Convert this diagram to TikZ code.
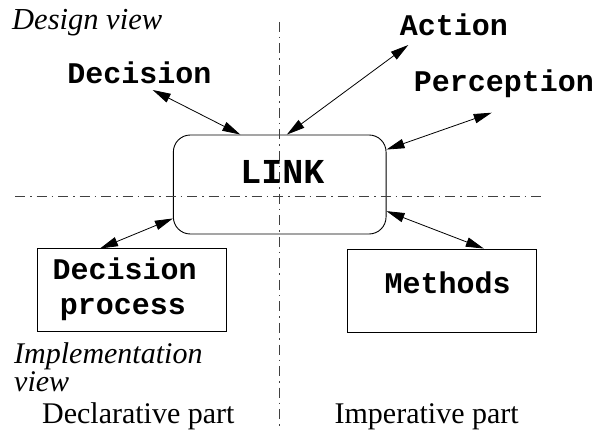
\documentclass[tikz,border=0pt]{standalone}
\usepackage{fontspec}
\setmainfont{Liberation Serif}
\newfontfamily\monob{Liberation Mono}
\usetikzlibrary{arrows.meta}
\tikzset{
  monolbl/.style={font=\monob\bfseries\fontsize{30}{34}\selectfont, inner sep=0pt, anchor=base},
  serlbl/.style={font=\fontsize{30}{34}\selectfont, inner sep=0pt, anchor=base},
  itlbl/.style={font=\itshape\fontsize{30}{22}\selectfont, inner sep=0pt, anchor=base west, align=left},
  axis/.style={line width=0.8pt, black!75, dash pattern=on 10pt off 5pt on 1.5pt off 5pt},
  box/.style={draw, line width=0.9pt, inner sep=0pt},
  link/.style={<->, line width=0.8pt, >={Triangle[length=18pt,width=9.5pt]}}
}
\begin{document}
\begin{tikzpicture}[x=1pt,y=-1pt]
\useasboundingbox (0,0) rectangle (597,430);
% boxes
\node[box, rounded corners=17pt, minimum width=212.7pt, minimum height=99pt] (lnk) at (279.7,184.5) {};
\node[box, minimum width=189.4pt, minimum height=82.7pt] (dp) at (132,290.3) {};
\node[box, minimum width=189pt, minimum height=83pt] (meth) at (441.8,290.5) {};
% axes
\coordinate (vtop) at (279.5,22);
\coordinate (vbot) at (279.5,430);
\coordinate (hl) at (15,196);
\coordinate (hr) at (545,196);
\draw[axis] (vtop) -- (vbot);
\draw[axis] (hl) -- (hr);
% labels
\node[monolbl, font=\monob\bfseries\fontsize{35}{40}\selectfont] (linktxt) at (282.3,184) {LINK};
\node[monolbl] (dec) at (139.5,83.3) {Decision};
\node[monolbl] (act) at (454,36) {Action};
\node[monolbl] (perc) at (504,91.7) {Perception};
\node[monolbl] (dp1) at (124.7,279.3) {Decision};
\node[monolbl] (dp2) at (123,315) {process};
\node[monolbl] (methtxt) at (447.7,294) {Methods};
\node[itlbl, font=\itshape\fontsize{30.5}{34}\selectfont] (dview) at (12,29.3) {Design view};
\node[itlbl] (iview) at (14,391) {Implementation\\view};
\node[serlbl] (decl) at (138.3,423) {Declarative part};
\node[serlbl] (imp) at (426.7,423.3) {Imperative part};
% arrow end points
\coordinate (decE) at (152.7,90);
\coordinate (actE) at (408.3,45);
\coordinate (percE) at (491.7,112.7);
\draw[link] (decE) -- ([xshift=67.4pt]lnk.north west);
\draw[link] (actE) -- ([xshift=114pt]lnk.north west);
\draw[link] (percE) -- ([yshift=-15pt]lnk.north east);
\draw[link] ([xshift=-32pt]dp.north) -- ([yshift=16pt]lnk.south west);
\draw[link] ([xshift=42pt]meth.north) -- ([yshift=23.3pt]lnk.south east);
\end{tikzpicture}
\end{document}
